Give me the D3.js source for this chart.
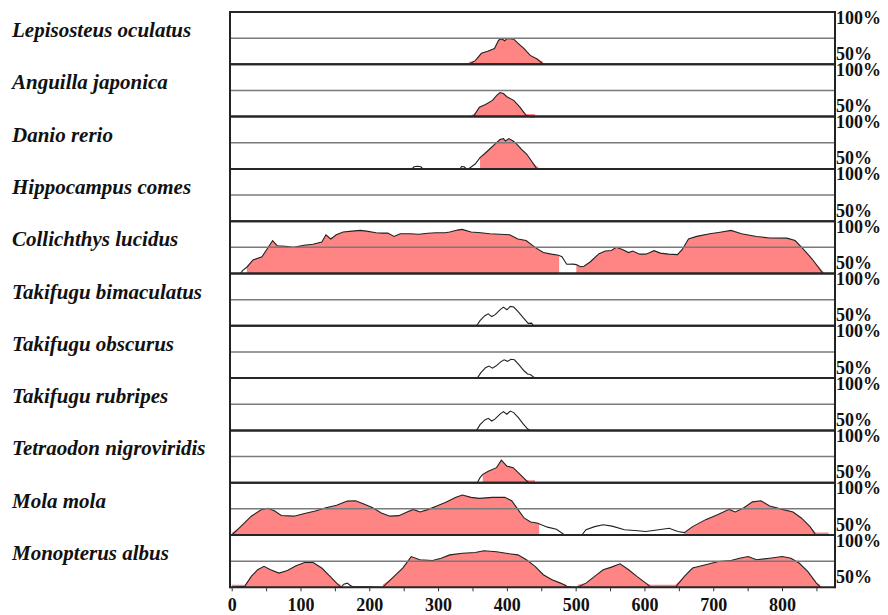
<!DOCTYPE html>
<html>
<head>
<meta charset="utf-8">
<script src="https://cdn.jsdelivr.net/npm/d3@7"></script>
<style>
  body { margin: 0; background: #fff; }
  svg { display: block; }
</style>
</head>
<body>
<svg id="chart"></svg>
<script>
const width = 888;
const height = 615;

// species shown top to bottom
const species = [
  "Lepisosteus oculatus", "Anguilla japonica", "Danio rerio", "Hippocampus comes",
  "Collichthys lucidus", "Takifugu bimaculatus", "Takifugu obscurus", "Takifugu rubripes",
  "Tetraodon nigroviridis", "Mola mola", "Monopterus albus"
];

// conservation curves: [position, percent identity]
const lepisosteus = [[345,50],[354,53.5],[363,60.5],[372,62.5],[382,65],[388,73],[392,74.5],[397,72.5],[400,74.5],[405,74.5],[410,74],[416,70.3],[425,65],[434,58.5],[444,55],[453,50]];
const anguilla = [[345,50],[352,50.5],[360,59],[369,61.6],[379,65.5],[385,70],[390,73],[395,72],[400,69],[410,65.5],[419,59],[428,51],[433,50],[441,50]];
const danio = [[262,50],[265,52],[270,52.5],[275,52],[278,50],[332,50],[334,52.3],[338,52],[341,50],[344,50],[349,52.3],[354,54.7],[361,60.7],[368,64.7],[375,69],[383,74],[390,78],[395,79],[398,76.7],[403,79],[409,76.7],[414,74],[421,69],[429,64],[436,57.3],[443,50.7],[446,50]];
const hippocampus = [];
const collichthys = [[13,50],[16,53],[22,56],[31,63],[44,66],[56,78],[59.5,81.5],[66,76.6],[78,76],[90,75],[105,77],[118,78],[131,80],[137,87],[144,83],[152,87],[162,89.6],[175,90.5],[187,91.2],[196,90.5],[210,89],[218,88.6],[227,88.6],[236,85.4],[245,88],[260,88],[272,87.5],[285,88.5],[297,89],[310,89],[317,89.6],[328,91.5],[335,92.2],[348,89.6],[362,89],[375,88],[390,87.5],[404,87],[416,83],[428,81.5],[441,75],[453,70],[465,68.5],[475,67.5],[480,66],[487,58.8],[496,59],[501,58.5],[507,56.5],[512,57],[521,61],[534,69],[543,71.5],[552,72],[559,75],[568,73],[577,70],[583,71.5],[593,68.5],[602,68.5],[608,70],[614,71.8],[623,69.5],[635,68.5],[648,68],[655,73],[664,83],[676,85.5],[695,88],[710,89.5],[726,91.2],[741,88],[763,85.4],[782,84],[807,83.8],[819,81.5],[831,73.4],[844,63.6],[859,50.5],[862,50]];
const bimaculatus = [[356,50],[361,54.9],[368,59.7],[373,61.4],[378,58.8],[383,60.7],[390,65.3],[395,67.9],[400,65.3],[405,68.5],[410,67.9],[417,63],[424,57.5],[431,52.3],[436,52.6],[439,50]];
const obscurus = [[357,50],[362,55],[369,60],[374,61.5],[379,59.5],[384,61.5],[391,65.5],[396,67.5],[401,66],[406,68],[411,67.5],[418,62.5],[425,57],[430,54],[434,53.5],[441,50]];
const rubripes = [[356,50],[361,55.5],[368,60],[373,61.5],[378,59],[383,61],[390,65.5],[395,68],[400,65.5],[405,68.5],[410,67],[417,62],[424,56],[430,51.5],[434,50]];
const tetraodon = [[357,50],[361,54.8],[365,58],[373,61],[385,64.4],[392,71.5],[399.7,66],[409,64.4],[416.6,59.6],[424,54.8],[429,51.6],[432,50],[441,50]];
const mola = [[0,50],[1,50.5],[13,58],[28.5,68],[44,74.5],[53,75.5],[62.6,73],[72,68.6],[90.5,68],[106,70.6],[121.5,73],[137,76],[152.5,78.4],[168,82.4],[180,82.7],[193,79.4],[205,76],[217.6,71],[230,68],[243,68.5],[255,72],[264,74.5],[274,72],[286,74.5],[298,77.8],[310.6,81],[326,86],[335.4,88.2],[348,86],[360,85],[379,86],[397,86],[407,82.7],[416,74.5],[425,66.3],[434.6,62.4],[444,61.4],[459,57.5],[472,55.5],[484,50],[509,50],[515,55],[527.6,58],[540,59.8],[553,58.5],[571,55],[590,54],[602,53.3],[620.6,55],[636,56.5],[648.5,53.3],[658,52.3],[670,58],[689,64.7],[707,69.6],[723,74.5],[732,72],[744.6,76],[757,81.7],[769.4,82.7],[782,77.8],[800.4,74.5],[816,72],[828,66.3],[840.7,58],[849,50],[868,50]];
const monopterus = [[0,50],[19,51],[28.5,60.4],[37.8,66.8],[47,70],[56.4,66.8],[68.8,63.6],[81,66],[93.6,70.5],[106,73.7],[118.4,73.7],[130.8,68.4],[143,60.4],[152.5,54],[158.7,50],[163,53],[168,54],[172,52],[176,50.5],[185,50.5],[200,50.5],[215,50],[219.5,50],[236,60.4],[248.6,68.4],[261,79.4],[273.4,76.3],[292,75.6],[304.4,77.8],[317,81],[335.4,82.6],[354,83.2],[366.4,85],[385,84],[403.6,82],[416,81],[428.4,76.3],[441,70],[453,62],[465.6,57.3],[478,54],[487,51],[495,50],[503,50],[515,54],[527.6,60.4],[540,66.8],[552,69.3],[564.5,72.5],[577,66.8],[589,60.4],[602,54],[609.4,50],[645,50],[658,60.4],[670,68.4],[689,71.5],[707.4,74.7],[726,75.6],[738,77.8],[750.8,79.4],[763,76.3],[782,77.8],[800.4,79.4],[813,77.8],[825.2,73],[837.6,65],[850,54],[856,50]];

const curves = [lepisosteus, anguilla, danio, hippocampus, collichthys, bimaculatus, obscurus, rubripes, tetraodon, mola, monopterus];

// conserved (pink) ranges per species: [start, end]
const conserved = [
  [[345,453]],
  [[350,441]],
  [[361,446]],
  [],
  [[22,476],[501,860]],
  [],
  [],
  [],
  [[365,441]],
  [[0,447],[658,868]],
  [[0,158.7],[219.5,487],[503,856]]
];

const xTicks = d3.range(0, 851, 50);
const yLabels = ["100%", "50%"];

const svg = d3.select("#chart")
  .attr("width", width)
  .attr("height", height);

const x = d3.scaleLinear()
  .domain([0, 877])
  .range([231.7, 835]);

const band = d3.scaleBand()
  .domain(species)
  .range([12, 587.3]);

const frameLeft = 230;
const frameRight = 835;

species.forEach(function (name, i) {
  const top = band(name);
  const bottom = top + band.bandwidth();
  const y = d3.scaleLinear().domain([50, 100]).range([bottom, top]);
  const g = svg.append("g");

  // clip the fill to the conserved ranges
  const clip = svg.append("clipPath").attr("id", "clip" + i);
  clip.selectAll("rect")
    .data(conserved[i])
    .enter()
    .append("rect")
    .attr("x", d => x(d[0]))
    .attr("width", d => x(d[1]) - x(d[0]))
    .attr("y", top)
    .attr("height", bottom - top);

  const area = d3.area()
    .x(d => x(d[0]))
    .y0(bottom)
    .y1(d => Math.min(y(d[1]), bottom - 2.5));

  if (curves[i].length) {
    g.append("path")
      .datum(curves[i])
      .attr("clip-path", "url(#clip" + i + ")")
      .attr("fill", "#ff8484")
      .attr("d", area);

    g.append("path")
      .datum(curves[i])
      .attr("fill", "none")
      .attr("stroke", "#222")
      .attr("stroke-width", 1.1)
      .attr("d", d3.line().x(d => x(d[0])).y(d => y(d[1])));
  }

  // 75% guide
  g.append("line")
    .attr("x1", frameLeft).attr("x2", frameRight)
    .attr("y1", y(75)).attr("y2", y(75))
    .attr("stroke", "#7a7a7a")
    .attr("stroke-width", 1.5);

  // panel top / bottom borders
  [top, bottom].forEach(function (yy) {
    g.append("line")
      .attr("x1", frameLeft).attr("x2", frameRight)
      .attr("y1", yy).attr("y2", yy)
      .attr("stroke", "#262626")
      .attr("stroke-width", 2);
  });

  // species name
  svg.append("text")
    .attr("x", 12)
    .attr("y", top + 25)
    .attr("font-family", "'Liberation Serif', serif")
    .attr("font-style", "italic")
    .attr("font-weight", "bold")
    .attr("font-size", "21px")
    .attr("fill", "#111")
    .text(name);

  // right side percent labels
  svg.append("text")
    .attr("x", 836)
    .attr("y", top + 11.5)
    .attr("font-family", "'Liberation Serif', serif")
    .attr("font-weight", "bold")
    .attr("font-size", "18px")
    .attr("fill", "#111")
    .text(yLabels[0]);
  svg.append("text")
    .attr("x", 836)
    .attr("y", bottom - 4.5)
    .attr("font-family", "'Liberation Serif', serif")
    .attr("font-weight", "bold")
    .attr("font-size", "18px")
    .attr("fill", "#111")
    .text(yLabels[1]);
});

// left and right frame edges
[frameLeft, frameRight].forEach(function (xx) {
  svg.append("line")
    .attr("x1", xx).attr("x2", xx)
    .attr("y1", band.range()[0] - 1).attr("y2", band.range()[1] + 1)
    .attr("stroke", "#222")
    .attr("stroke-width", 2);
});

// bottom axis
const xAxis = d3.axisBottom(x)
  .tickValues(xTicks)
  .tickFormat(d => d % 100 === 0 ? d : "")
  .tickSize(4)
  .tickPadding(7);

const axisG = svg.append("g")
  .attr("transform", `translate(0, ${band.range()[1]})`)
  .call(xAxis);
axisG.select(".domain").remove();
axisG.selectAll(".tick line").attr("stroke", "#333");
axisG.selectAll("text")
  .attr("font-family", "'Liberation Serif', serif")
  .attr("font-weight", "bold")
  .attr("font-size", "18px")
  .attr("fill", "#111");
</script>
</body>
</html>
